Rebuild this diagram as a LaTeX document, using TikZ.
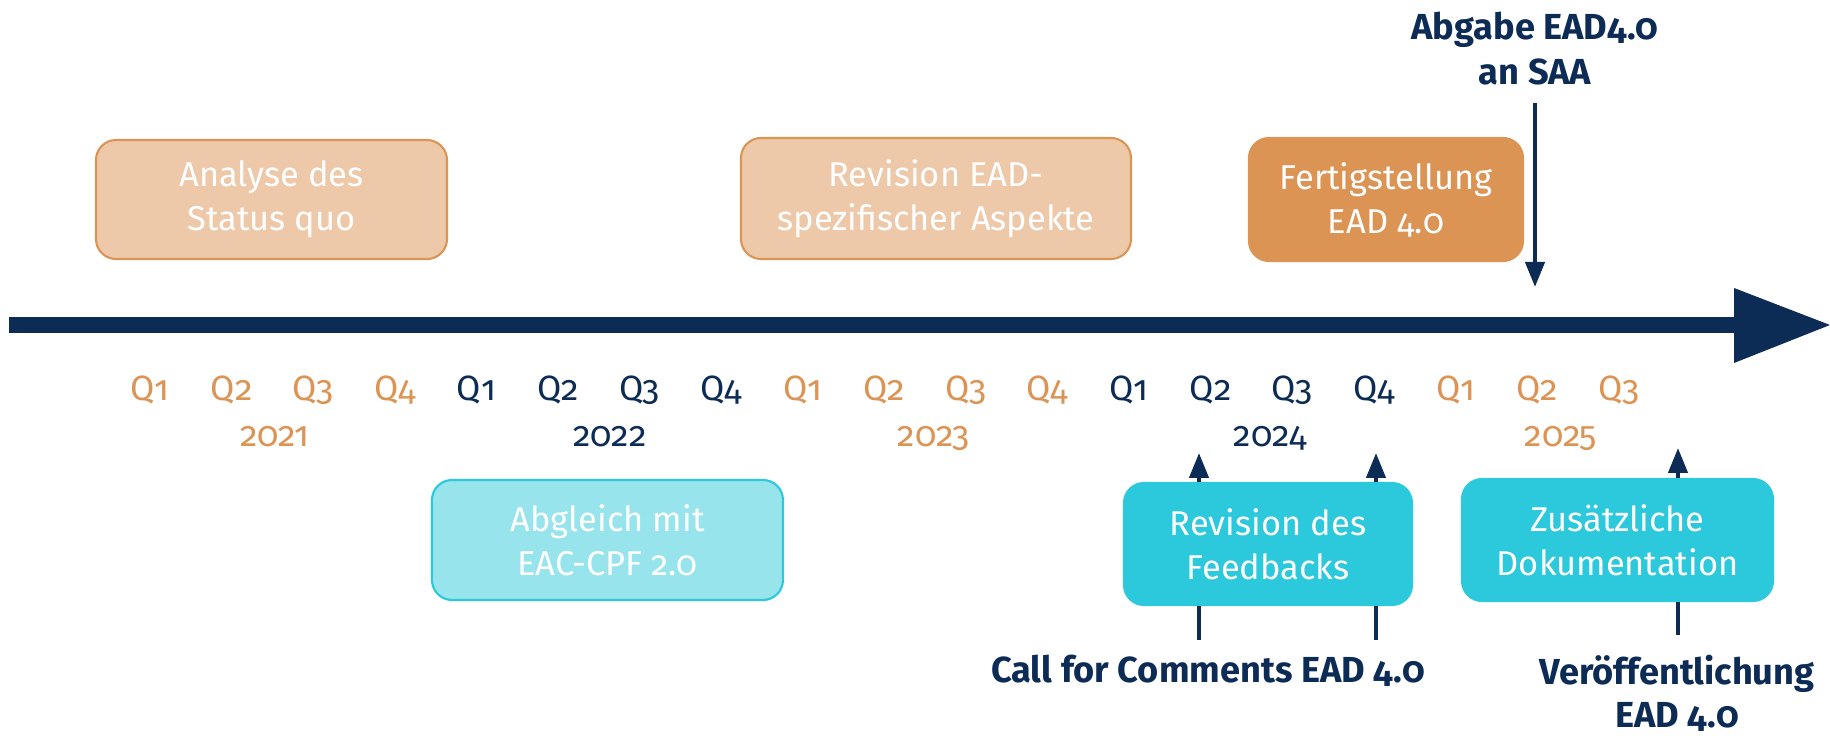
\documentclass[tikz,border=0pt]{standalone}
\usepackage{fontspec}
\setsansfont{Fira Sans}[Numbers=OldStyle]
\usetikzlibrary{arrows.meta, positioning, calc}

\definecolor{navy}{HTML}{0C2B55}
\definecolor{eadorange}{HTML}{DC9455}
\definecolor{peach}{HTML}{EDC9A9}
\definecolor{tuerkis}{HTML}{2CC8DC}
\definecolor{helltuerkis}{HTML}{97E4EC}

\begin{document}
\begin{tikzpicture}[x=0.1mm, y=-0.1mm, font=\sffamily,
	kasten/.style={rounded corners=2mm, align=center, text=white, inner sep=0pt, line width=0.6pt, font=\sffamily\fontsize{9.8}{12.5}\selectfont},
	quartal/.style={inner sep=0pt, anchor=base, font=\sffamily\fontsize{10}{12}\selectfont},
	meilenstein/.style={inner sep=0pt, align=center, text=navy, font=\sffamily\bfseries\fontsize{10.3}{12.8}\selectfont},
	linie/.style={navy, line width=1.2pt},
	pfeil/.style={linie, -{Triangle[length=2.5mm, width=1.9mm]}}]
	\def\qx{81.6}
	\def\qy{401}
	\def\jy{447}

	\useasboundingbox		(0,0) rectangle (1830,736);

	\fill[navy]				(9,317) rectangle (1734,333);
	\fill[navy]				(1734,288) -- (1830,325) -- (1734,363) -- cycle;

	\node[kasten, draw=eadorange, fill=peach, minimum width=35.1mm, minimum height=11.9mm]		(analyse) at (271.5,199.5) {Analyse des\\Status quo};
	\node[kasten, draw=eadorange, fill=peach, minimum width=39mm, minimum height=12.1mm]		(aspekte) at (936,198.5) {Revision EAD-\\spezifischer Aspekte};
	\node[kasten, draw=eadorange, fill=eadorange, minimum width=27.4mm, minimum height=12.3mm]	(fertig) at (1386,199.5) {Fertigstellung\\EAD 4.0};
	\node[kasten, draw=tuerkis, fill=helltuerkis, minimum width=35.1mm, minimum height=12mm]	(abgleich) at (607.5,540) {Abgleich mit\\EAC-CPF 2.0};
	\node[kasten, draw=tuerkis, fill=tuerkis, minimum width=28.8mm, minimum height=12.2mm]		(feedback) at (1268,544) {Revision des\\Feedbacks};
	\node[kasten, draw=tuerkis, fill=tuerkis, minimum width=31.1mm, minimum height=12.2mm]		(doku) at (1617.5,540) {Zusätzliche\\Dokumentation};

	\foreach \i in {0,...,18} {
		\pgfmathtruncatemacro{\q}{mod(\i,4)+1}
		\pgfmathtruncatemacro{\jahr}{div(\i,4)}
		\ifodd\jahr \def\farbe{navy}\else \def\farbe{eadorange}\fi
		\node[quartal, text=\farbe]	(q\i) at (150+\i*\qx,\qy) {Q\q};
	}
	\foreach \j/\x/\farbe in {2021/275/eadorange, 2022/610/navy, 2023/934/eadorange, 2024/1270/navy, 2025/1561/eadorange}
		\node[quartal, text=\farbe]	(j\j) at (\x,\jy) {\j};

	\node[meilenstein, anchor=north]	(abgabe) at (1535,11) {Abgabe EAD4.0\\an SAA};
	\node[meilenstein, anchor=base]		(call) at (1208,683) {Call for Comments EAD 4.0};
	\node[meilenstein, anchor=north, font=\sffamily\bfseries\fontsize{10.3}{12.3}\selectfont]	(veroeff) at (1677,654) {Veröffentlichung\\EAD 4.0};

	\coordinate (abgabeEnd)	at (1535,287);
	\coordinate (callA)		at (1199,640);
	\coordinate (callB)		at (1376,640);
	\coordinate (callAEnd)	at (1199,453);
	\coordinate (callBEnd)	at (1376,453);
	\coordinate (veroeffA)	at (1678,635);
	\coordinate (veroeffEnd)	at (1678,448);

	\draw[pfeil, shorten <=1.8mm]	(abgabe.south) -- (abgabeEnd);
	\draw[linie]	(callA) -- (callA |- feedback.south);
	\draw[pfeil]	(callA |- feedback.north) -- (callAEnd);
	\draw[linie]	(callB) -- (callB |- feedback.south);
	\draw[pfeil]	(callB |- feedback.north) -- (callBEnd);
	\draw[linie]	(veroeffA) -- (veroeffA |- doku.south);
	\draw[pfeil]	(veroeffA |- doku.north) -- (veroeffEnd);
\end{tikzpicture}
\end{document}
